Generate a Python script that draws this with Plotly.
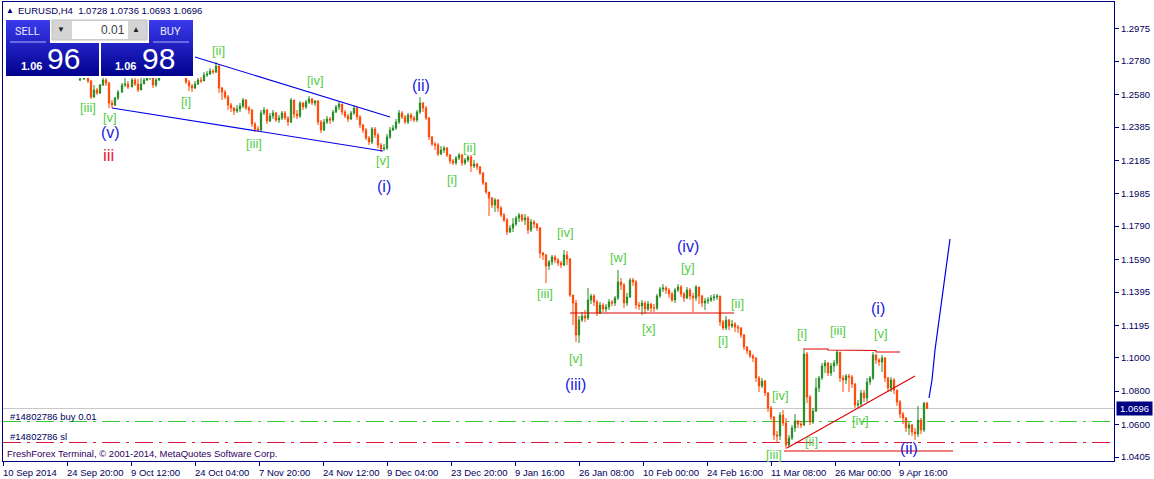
import plotly.graph_objects as go

# EURUSD H4 bars, one bar unit is one pixel of the terminal window
bar = [80, 84, 88, 91, 94, 97, 100, 103, 106, 109, 112, 115, 118, 122, 125, 128, 132, 135] + list(range(138, 928, 3))

close = [
    1.2673, 1.2679, 1.2661, 1.2565, 1.2607, 1.2589, 1.2637, 1.2667, 1.2649, 1.2529, 1.2517, 1.2559, 1.2595, 1.2637, 1.2643, 1.2625, 1.2667, 1.2643,
    1.2607, 1.2643, 1.2667, 1.2679, 1.2685, 1.2637, 1.2667, 1.2691, 1.2715, 1.2727, 1.2715, 1.2733, 1.2721, 1.2739, 1.2727, 1.2715, 1.2655, 1.2631,
    1.2619, 1.2643, 1.2667, 1.2661, 1.2697, 1.2703, 1.2721, 1.2715, 1.2751, 1.2619, 1.2595, 1.2565, 1.2517, 1.2499, 1.2481, 1.2493, 1.2511, 1.2547,
    1.2499, 1.2487, 1.2403, 1.2373, 1.2367, 1.2469, 1.2487, 1.2421, 1.2451, 1.2469, 1.2427, 1.2439, 1.2469, 1.2439, 1.2415, 1.2547, 1.2463, 1.2451,
    1.2529, 1.2505, 1.2535, 1.2553, 1.2529, 1.2541, 1.2415, 1.2367, 1.2415, 1.2433, 1.2427, 1.2475, 1.2505, 1.2523, 1.2475, 1.2451, 1.2433, 1.2469,
    1.2499, 1.2445, 1.2397, 1.2367, 1.2319, 1.2295, 1.2373, 1.2337, 1.2277, 1.2253, 1.2259, 1.2325, 1.2367, 1.2379, 1.2415, 1.2469, 1.2445, 1.2415,
    1.2457, 1.2439, 1.2427, 1.2475, 1.2529, 1.2499, 1.2439, 1.2325, 1.2283, 1.2277, 1.2223, 1.2247, 1.2259, 1.2217, 1.2181, 1.2169, 1.2199, 1.2217,
    1.2169, 1.2187, 1.2205, 1.2151, 1.2163, 1.2145, 1.2109, 1.2049, 1.1995, 1.1959, 1.1917, 1.1947, 1.1899, 1.1857, 1.1827, 1.1755, 1.1779, 1.1803,
    1.1839, 1.1857, 1.1827, 1.1839, 1.1767, 1.1815, 1.1803, 1.1779, 1.1629, 1.1617, 1.1551, 1.1575, 1.1605, 1.1587, 1.1569, 1.1557, 1.1617, 1.1593,
    1.1377, 1.1329, 1.1137, 1.1227, 1.1251, 1.1239, 1.1347, 1.1371, 1.1335, 1.1269, 1.1317, 1.1293, 1.1305, 1.1335, 1.1329, 1.1359, 1.1455, 1.1437,
    1.1329, 1.1365, 1.1467, 1.1455, 1.1317, 1.1311, 1.1329, 1.1293, 1.1323, 1.1299, 1.1299, 1.1371, 1.1413, 1.1419, 1.1407, 1.1383, 1.1347, 1.1407,
    1.1425, 1.1383, 1.1359, 1.1407, 1.1371, 1.1359, 1.1425, 1.1371, 1.1329, 1.1341, 1.1347, 1.1359, 1.1365, 1.1371, 1.1215, 1.1179, 1.1227, 1.1191,
    1.1203, 1.1185, 1.1179, 1.1137, 1.1065, 1.1041, 1.1011, 1.0999, 1.0879, 1.0831, 1.0861, 1.0789, 1.0699, 1.0645, 1.0537, 1.0531, 1.0657, 1.0609,
    1.0477, 1.0519, 1.0579, 1.0621, 1.0603, 1.0597, 1.1023, 1.0765, 1.0615, 1.0681, 1.0819, 1.0879, 1.0951, 1.0969, 1.0909, 1.0951, 1.0969, 1.1035,
    1.0879, 1.0867, 1.0891, 1.0885, 1.0843, 1.0717, 1.0723, 1.0789, 1.0759, 1.0855, 1.0879, 1.1017, 1.0987, 1.0975, 1.0999, 1.0879, 1.0819, 1.0867,
    1.0807, 1.0735, 1.0663, 1.0639, 1.0579, 1.0597, 1.0555, 1.0543, 1.0627, 1.0567, 1.0728, 1.0696,
]

high = [
    1.2685, 1.2685, 1.2685, 1.2667, 1.2637, 1.2619, 1.2643, 1.2679, 1.2679, 1.2655, 1.2547, 1.2565, 1.2607, 1.2649, 1.2679, 1.2661, 1.2679, 1.2679,
    1.2673, 1.2679, 1.2691, 1.2697, 1.2703, 1.2691, 1.2679, 1.2703, 1.2727, 1.2751, 1.2739, 1.2751, 1.2751, 1.2757, 1.2751, 1.2739, 1.2715, 1.2667,
    1.2643, 1.2661, 1.2679, 1.2685, 1.2715, 1.2721, 1.2739, 1.2733, 1.2775, 1.2757, 1.2625, 1.2607, 1.2577, 1.2529, 1.2505, 1.2517, 1.2529, 1.2559,
    1.2553, 1.2511, 1.2493, 1.2415, 1.2391, 1.2487, 1.2505, 1.2493, 1.2469, 1.2487, 1.2475, 1.2457, 1.2481, 1.2481, 1.2451, 1.2559, 1.2541, 1.2487,
    1.2541, 1.2535, 1.2547, 1.2571, 1.2559, 1.2547, 1.2547, 1.2427, 1.2433, 1.2451, 1.2445, 1.2487, 1.2517, 1.2535, 1.2523, 1.2487, 1.2463, 1.2481,
    1.2517, 1.2505, 1.2457, 1.2403, 1.2379, 1.2331, 1.2385, 1.2385, 1.2349, 1.2289, 1.2283, 1.2343, 1.2385, 1.2397, 1.2433, 1.2487, 1.2481, 1.2457,
    1.2469, 1.2469, 1.2451, 1.2487, 1.2565, 1.2535, 1.2511, 1.2445, 1.2331, 1.2295, 1.2289, 1.2271, 1.2271, 1.2265, 1.2223, 1.2193, 1.2211, 1.2229,
    1.2223, 1.2199, 1.2217, 1.2217, 1.2187, 1.2169, 1.2151, 1.2115, 1.2055, 1.1971, 1.1965, 1.1959, 1.1953, 1.1911, 1.1869, 1.1839, 1.1797, 1.1839,
    1.1851, 1.1869, 1.1863, 1.1863, 1.1851, 1.1833, 1.1827, 1.1809, 1.1785, 1.1635, 1.1623, 1.1587, 1.1617, 1.1617, 1.1599, 1.1581, 1.1647, 1.1641,
    1.1599, 1.1377, 1.1347, 1.1251, 1.1275, 1.1287, 1.1419, 1.1383, 1.1383, 1.1347, 1.1335, 1.1329, 1.1323, 1.1353, 1.1347, 1.1371, 1.1527, 1.1479,
    1.1449, 1.1389, 1.1479, 1.1479, 1.1467, 1.1335, 1.1347, 1.1341, 1.1341, 1.1329, 1.1323, 1.1383, 1.1425, 1.1443, 1.1431, 1.1419, 1.1395, 1.1419,
    1.1443, 1.1437, 1.1395, 1.1425, 1.1419, 1.1389, 1.1437, 1.1425, 1.1377, 1.1359, 1.1365, 1.1377, 1.1383, 1.1383, 1.1371, 1.1227, 1.1251, 1.1233,
    1.1227, 1.1215, 1.1197, 1.1185, 1.1143, 1.1071, 1.1047, 1.1023, 1.1005, 1.0891, 1.0879, 1.0867, 1.0795, 1.0711, 1.0651, 1.0561, 1.0675, 1.0687,
    1.0639, 1.0537, 1.0597, 1.0663, 1.0627, 1.0621, 1.1047, 1.1035, 1.0777, 1.0699, 1.0879, 1.0891, 1.0969, 1.0987, 1.0975, 1.0969, 1.0987, 1.1047,
    1.1035, 1.0897, 1.0903, 1.0903, 1.0897, 1.0849, 1.0747, 1.0807, 1.0807, 1.0879, 1.0891, 1.1035, 1.1023, 1.0999, 1.1017, 1.1005, 1.0885, 1.0885,
    1.0879, 1.0807, 1.0747, 1.0675, 1.0645, 1.0615, 1.0603, 1.0579, 1.0711, 1.0639, 1.0735, 1.0736,
]

low = [
    1.2661, 1.2667, 1.2649, 1.2553, 1.2559, 1.2577, 1.2583, 1.2631, 1.2631, 1.2499, 1.2499, 1.2511, 1.2547, 1.2589, 1.2625, 1.2613, 1.2643, 1.2631,
    1.2595, 1.2625, 1.2643, 1.2661, 1.2667, 1.2619, 1.2625, 1.2661, 1.2697, 1.2709, 1.2697, 1.2709, 1.2703, 1.2715, 1.2709, 1.2697, 1.2643, 1.2601,
    1.2595, 1.2613, 1.2637, 1.2649, 1.2661, 1.2685, 1.2697, 1.2703, 1.2709, 1.2589, 1.2547, 1.2553, 1.2487, 1.2475, 1.2457, 1.2469, 1.2475, 1.2499,
    1.2487, 1.2463, 1.2385, 1.2355, 1.2355, 1.2361, 1.2457, 1.2403, 1.2415, 1.2433, 1.2415, 1.2409, 1.2427, 1.2427, 1.2391, 1.2409, 1.2439, 1.2433,
    1.2439, 1.2487, 1.2493, 1.2523, 1.2517, 1.2511, 1.2397, 1.2349, 1.2361, 1.2403, 1.2403, 1.2415, 1.2469, 1.2487, 1.2457, 1.2439, 1.2415, 1.2427,
    1.2457, 1.2427, 1.2379, 1.2349, 1.2307, 1.2277, 1.2283, 1.2319, 1.2259, 1.2235, 1.2241, 1.2247, 1.2313, 1.2361, 1.2367, 1.2403, 1.2433, 1.2403,
    1.2403, 1.2421, 1.2415, 1.2415, 1.2463, 1.2475, 1.2427, 1.2307, 1.2271, 1.2247, 1.2211, 1.2217, 1.2229, 1.2205, 1.2163, 1.2157, 1.2157, 1.2187,
    1.2151, 1.2157, 1.2175, 1.2115, 1.2139, 1.2127, 1.2097, 1.2037, 1.1983, 1.1851, 1.1899, 1.1875, 1.1875, 1.1845, 1.1815, 1.1737, 1.1749, 1.1755,
    1.1791, 1.1815, 1.1815, 1.1797, 1.1743, 1.1755, 1.1779, 1.1761, 1.1599, 1.1587, 1.1449, 1.1527, 1.1557, 1.1569, 1.1551, 1.1539, 1.1551, 1.1557,
    1.1365, 1.1197, 1.1095, 1.1089, 1.1215, 1.1215, 1.1227, 1.1323, 1.1311, 1.1251, 1.1263, 1.1275, 1.1275, 1.1287, 1.1311, 1.1311, 1.1347, 1.1407,
    1.1299, 1.1311, 1.1359, 1.1431, 1.1293, 1.1287, 1.1257, 1.1263, 1.1281, 1.1275, 1.1275, 1.1287, 1.1359, 1.1395, 1.1383, 1.1359, 1.1335, 1.1329,
    1.1395, 1.1365, 1.1335, 1.1353, 1.1347, 1.1275, 1.1341, 1.1323, 1.1305, 1.1287, 1.1323, 1.1335, 1.1341, 1.1347, 1.1191, 1.1167, 1.1167, 1.1167,
    1.1179, 1.1155, 1.1149, 1.1119, 1.1047, 1.1023, 1.0999, 1.0975, 1.0855, 1.0795, 1.0819, 1.0771, 1.0675, 1.0627, 1.0507, 1.0489, 1.0507, 1.0591,
    1.0453, 1.0465, 1.0507, 1.0555, 1.0579, 1.0579, 1.0591, 1.0729, 1.0597, 1.0603, 1.0675, 1.0795, 1.0867, 1.0909, 1.0891, 1.0891, 1.0915, 1.0951,
    1.0855, 1.0795, 1.0843, 1.0795, 1.0819, 1.0699, 1.0699, 1.0711, 1.0735, 1.0735, 1.0837, 1.0867, 1.0963, 1.0951, 1.0915, 1.0855, 1.0795, 1.0795,
    1.0783, 1.0711, 1.0639, 1.0603, 1.0555, 1.0537, 1.0531, 1.0507, 1.0525, 1.0543, 1.0555, 1.0693,
]

open_ = [1.2667] + close[:-1]

tick_bar = [3, 67, 131, 195, 259, 323, 387, 451, 515, 579, 643, 707, 771, 835, 899]
tick_dates = ["10 Sep 2014", "24 Sep 20:00", "9 Oct 12:00", "24 Oct 04:00", "7 Nov 20:00", "24 Nov 12:00",
              "9 Dec 04:00", "23 Dec 20:00", "9 Jan 16:00", "26 Jan 08:00", "10 Feb 00:00", "24 Feb 16:00",
              "11 Mar 08:00", "26 Mar 00:00", "9 Apr 16:00"]
price_ticks = [1.2975, 1.2780, 1.2580, 1.2385, 1.2185, 1.1985, 1.1790, 1.1590, 1.1395, 1.1195, 1.1000, 1.0800, 1.0600, 1.0405]

last_price = 1.0696
buy_level = 1.0618
sl_level = 1.0492

# elliott wave counts
minor_bar = [88, 110, 186, 218, 254, 315, 383, 452, 469, 565, 545, 618, 688, 576, 649, 737, 723, 780, 802, 838, 881, 860, 811, 774]
minor_price = [1.2505, 1.2445, 1.2541, 1.2847, 1.2289, 1.2667, 1.2187, 1.2073, 1.2265, 1.1755, 1.1389, 1.1605, 1.1545, 1.0999,
               1.1179, 1.1329, 1.1107, 1.0777, 1.1149, 1.1167, 1.1149, 1.0627, 1.0501, 1.0423]
minor_text = ["[iii]", "[v]", "[i]", "[ii]", "[iii]", "[iv]", "[v]", "[i]", "[ii]", "[iv]", "[iii]", "[w]", "[y]", "[v]", "[x]",
              "[ii]", "[i]", "[iv]", "[i]", "[iii]", "[v]", "[iv]", "[ii]", "[iii]"]
major_bar = [110, 384, 421, 575, 688, 878, 909]
major_price = [1.2355, 1.2031, 1.2637, 1.0843, 1.1671, 1.1299, 1.0459]
major_text = ["(v)", "(i)", "(ii)", "(iii)", "(iv)", "(i)", "(ii)"]

# trend lines
wedge_top_bar, wedge_top_price = [195, 390], [1.2805, 1.2445]
wedge_low_bar, wedge_low_price = [112, 383], [1.2499, 1.2241]
forecast_bar = [929, 932, 935, 939, 942, 950]
forecast_price = [1.0759, 1.0867, 1.1047, 1.1227, 1.1347, 1.1713]
flat_bar, flat_price = [570, 734], [1.1269, 1.1269]
tri_top_bar, tri_top_price = [803, 828, 828, 876, 876, 900], [1.1053, 1.1053, 1.1047, 1.1044, 1.1035, 1.1035]
tri_rise_bar, tri_rise_price = [787, 915], [1.0459, 1.0891]
tri_low_bar, tri_low_price = [784, 953], [1.0441, 1.0441]

NAVY = "#000080"
GREEN = "#228b22"
ORANGE = "#ff4500"
FONT = "Liberation Sans"
INK = "#000060"


def py(y):
    # window pixel row to price
    return 1.3147 - 0.0006 * y


fig = go.Figure()
fig.add_trace(go.Candlestick(
    x=bar, open=open_, high=high, low=low, close=close,
    increasing=dict(line=dict(color=GREEN, width=1), fillcolor=GREEN),
    decreasing=dict(line=dict(color=ORANGE, width=1), fillcolor=ORANGE),
    whiskerwidth=0, hoverinfo="skip",
))

for xs, ys, col, w in [
    (wedge_top_bar, wedge_top_price, "#0000e6", 1.1),
    (wedge_low_bar, wedge_low_price, "#0000e6", 1.1),
    (forecast_bar, forecast_price, "#0000e6", 1.2),
    (flat_bar, flat_price, "#e00000", 1.1),
    (tri_top_bar, tri_top_price, "#e00000", 1.1),
    (tri_rise_bar, tri_rise_price, "#e00000", 1.1),
    (tri_low_bar, tri_low_price, "#e00000", 1.1),
]:
    fig.add_trace(go.Scatter(x=xs, y=ys, mode="lines", line=dict(color=col, width=w), hoverinfo="skip"))

shapes = [
    dict(type="line", xref="paper", x0=0, x1=1, y0=last_price, y1=last_price, layer="below", line=dict(color="#c8c8c8", width=1)),
    dict(type="line", xref="paper", x0=0, x1=1, y0=buy_level, y1=buy_level, layer="below",
         line=dict(color="#32cd32", width=1, dash="18px,6px,3px,6px")),
    dict(type="line", xref="paper", x0=0, x1=1, y0=sl_level, y1=sl_level, layer="below",
         line=dict(color="#dc143c", width=1, dash="18px,6px,3px,6px")),
]


def rect(x0, y0, x1, y1, fill, line=None):
    shapes.append(dict(type="rect", x0=x0, x1=x1, y0=py(y0), y1=py(y1), fillcolor=fill,
                       line=dict(width=1 if line else 0, color=line or fill)))


# one trade panel block with a stepped blue gradient
def gradient(x0, y0, x1, y1):
    for y in range(y0, y1, 2):
        t = (y - 20) / 56
        col = "rgb(%d,%d,%d)" % (58 * (1 - t), 58 * (1 - t), 235 - 95 * t)
        rect(x0, y, x1, min(y + 2, y1), col)


rect(4, 18, 195, 78, "#ffffff")
gradient(6, 20, 50, 43)
gradient(6, 43, 99, 76)
gradient(149, 20, 193, 43)
gradient(101, 43, 193, 76)
rect(52, 20, 147, 40, "#d4d4d4", "#c0c0c0")
rect(72, 21, 128, 39, "#ffffff")
shapes.append(dict(type="line", x0=10, x1=46, y0=py(42), y1=py(42), line=dict(color="#b0b0ff", width=1)))
shapes.append(dict(type="line", x0=153, x1=189, y0=py(42), y1=py(42), line=dict(color="#b0b0ff", width=1)))

ann = []


def label(x, y, text, size=9.5, color=INK, anchor="left", family=FONT, bold=False, yref_px=True):
    ann.append(dict(x=x, y=py(y) if yref_px else y, text="<b>%s</b>" % text if bold else text, showarrow=False,
                    xanchor=anchor, yanchor="middle", font=dict(family=family, size=size, color=color), borderpad=0))


for b, p, t in zip(minor_bar, minor_price, minor_text):
    label(b, p, t, size=13, color="#55cc44", anchor="center", yref_px=False)
for b, p, t in zip(major_bar, major_price, major_text):
    label(b, p, t, size=16, color="#2222dd", anchor="center", yref_px=False)
label(108, 1.2217, "iii", size=17, color="#e8183c", anchor="center", yref_px=False)

label(17, 10, "EURUSD,H4&nbsp;&nbsp;1.0728 1.0736 1.0693 1.0696", size=9.5, color=INK)
label(10, 10, "▲", size=8, color=NAVY, anchor="center")
label(9, 416, "#14802786 buy 0.01")
label(9, 436, "#14802786 sl")
label(6, 453, "FreshForex Terminal, © 2001-2014, MetaQuotes Software Corp.", color="#300060")

label(27, 31, "SELL", size=11, color="#e8e8ff", anchor="center", family="Roboto")
label(170, 31, "BUY", size=11, color="#e8e8ff", anchor="center", family="Roboto")
label(126, 30, "0.01", size=12, color="#404040", anchor="right")
label(61, 29, "▼", size=8, color="#202020", anchor="center")
label(136, 29, "▲", size=8, color="#202020", anchor="center")
label(31, 66, "1.06", size=11, color="#ffffff", anchor="center", bold=True)
label(63, 58, "96", size=30, color="#ffffff", anchor="center")
label(125, 66, "1.06", size=11, color="#ffffff", anchor="center", bold=True)
label(158, 58, "98", size=30, color="#ffffff", anchor="center")

# time labels start at their tick, they are not centred on it
for b, t in zip(tick_bar, tick_dates):
    ann.append(dict(x=b, xanchor="left", xshift=-2, y=0, yref="paper", yanchor="top", yshift=-4, text=t, showarrow=False,
                    font=dict(family=FONT, size=9.5, color=INK)))

# current price tag on the axis
ann.append(dict(x=1, xref="paper", xanchor="left", xshift=2, y=last_price, yanchor="middle", text="1.0696", width=33, align="center",
                showarrow=False, bgcolor=NAVY, font=dict(family=FONT, size=9.5, color="#ffffff"), borderpad=1))

fig.update_layout(
    width=1154, height=479, autosize=False,
    margin=dict(l=3, r=40, t=2, b=18),
    plot_bgcolor="#ffffff", paper_bgcolor="#ffffff",
    showlegend=False, boxgap=0.4,
    shapes=shapes, annotations=ann,
    font=dict(family=FONT, size=9.5, color=INK),
    xaxis=dict(range=[3, 1114], rangeslider=dict(visible=False), showgrid=False, zeroline=False,
               tickmode="array", tickvals=tick_bar, showticklabels=False, ticks="outside", ticklen=4, tickcolor=NAVY,
               showline=True, linecolor=NAVY, linewidth=1, mirror=True),
    yaxis=dict(range=[py(461), py(2)], side="right", showgrid=False, zeroline=False,
               tickmode="array", tickvals=price_ticks, ticktext=["%.4f" % p for p in price_ticks],
               ticks="outside", ticklen=4, tickcolor=NAVY, tickfont=dict(family=FONT, size=9.5, color=INK),
               showline=True, linecolor=NAVY, linewidth=1, mirror=True),
)

fig.write_html("out.html", config=dict(displayModeBar=False),
               post_script="document.body.style.margin='0';document.body.style.overflow='hidden';")
